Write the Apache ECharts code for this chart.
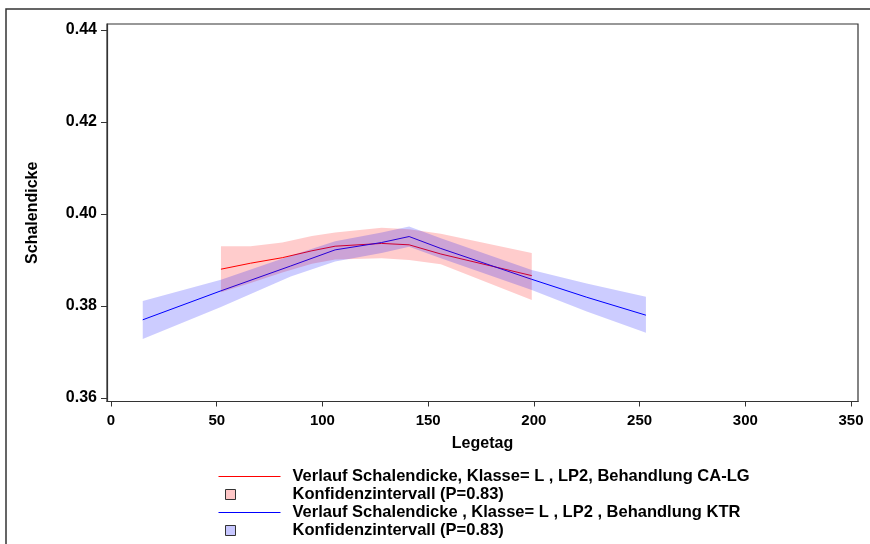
<!DOCTYPE html>
<html>
<head>
<meta charset="utf-8">
<script src="https://cdn.jsdelivr.net/npm/echarts@6/dist/echarts.min.js"></script>
<style>
html,body{margin:0;padding:0;background:#fff;}
#chart{width:870px;height:544px;}
</style>
</head>
<body>
<div id="chart"></div>
<script>
// Tick labels
var xTicks = [0, 50, 100, 150, 200, 250, 300, 350];
var yTicks = [0.36, 0.38, 0.40, 0.42, 0.44];

// Series CA-LG (red)
var redX     = [52, 66, 81, 95, 106, 128, 141, 156, 199];
var redMid   = [0.3880, 0.3893, 0.3905, 0.3920, 0.3930, 0.3936, 0.3933, 0.3913, 0.3866];
var redUpper = [0.3930, 0.3930, 0.3938, 0.3952, 0.3960, 0.3970, 0.3967, 0.3957, 0.3915];
var redLower = [0.3830, 0.3850, 0.3873, 0.3892, 0.3901, 0.3904, 0.3900, 0.3891, 0.3813];

// Series KTR (blue)
var blueX     = [15, 52, 85, 106, 128, 141, 156, 199, 225, 253];
var blueMid   = [0.3770, 0.3833, 0.3887, 0.3922, 0.3938, 0.3951, 0.3925, 0.3858, 0.3819, 0.3780];
var blueUpper = [0.3811, 0.3857, 0.3909, 0.3941, 0.3960, 0.3973, 0.3947, 0.3878, 0.3849, 0.3820];
var blueLower = [0.3728, 0.3798, 0.3864, 0.3897, 0.3915, 0.3929, 0.3904, 0.3835, 0.3788, 0.3742];

var nameRed = 'Verlauf Schalendicke, Klasse= L , LP2, Behandlung CA-LG';
var nameRedCI = 'Konfidenzintervall (P=0.83)';
var nameBlue = 'Verlauf Schalendicke , Klasse= L , LP2 , Behandlung KTR';
var nameBlueCI = 'Konfidenzintervall (P=0.83) ';

function zip(xs, ys) { return xs.map(function (x, i) { return [x, ys[i]]; }); }
function bandData(xs, lo, hi) { return xs.map(function (x, i) { return [x, lo[i], hi[i]]; }); }

function bandRender(xs, lo, hi, color) {
  return function (params, api) {
    if (params.dataIndex !== 0) return null;
    var pts = [];
    for (var i = 0; i < xs.length; i++) pts.push(api.coord([xs[i], hi[i]]));
    for (var j = xs.length - 1; j >= 0; j--) pts.push(api.coord([xs[j], lo[j]]));
    return { type: 'polygon', shape: { points: pts }, style: { fill: color, stroke: null } };
  };
}

var font = 'Arial, "Liberation Sans", sans-serif';
var chart = echarts.init(document.getElementById('chart'));

function lg(item, top, left, iw, ih, pad) {
  return {
    data: [item],
    orient: 'vertical', left: left, top: top,
    itemWidth: iw, itemHeight: ih, padding: 0, selectedMode: false,
    textStyle: { fontFamily: font, fontWeight: 'bold', fontSize: 16.5, color: '#000', padding: [0, 0, 0, pad] }
  };
}

var hiddenSymbol = { color: 'rgba(0,0,0,0)', borderColor: 'rgba(0,0,0,0)', borderWidth: 0 };

chart.setOption({
  animation: false,
  backgroundColor: '#fff',
  graphic: [{
    type: 'polyline', shape: { points: [[6, 544], [6, 9], [870, 9]] },
    style: { stroke: '#333', lineWidth: 1.5, fill: null }
  }],
  grid: { left: 107, right: 12, top: 24, bottom: 142.5, show: true, borderColor: '#333', borderWidth: 1.2 },
  legend: [
    lg({ name: nameRed, itemStyle: hiddenSymbol, lineStyle: { color: '#ff0000', width: 1 } }, 468, 218, 62, 14, 7),
    lg({ name: nameRedCI, icon: 'rect', itemStyle: { color: 'rgba(255,0,0,0.22)', borderColor: '#333', borderWidth: 1 } }, 486, 225, 10, 10, 52),
    lg({ name: nameBlue, itemStyle: hiddenSymbol, lineStyle: { color: '#0000ff', width: 1 } }, 504, 218, 62, 14, 7),
    lg({ name: nameBlueCI, icon: 'rect', itemStyle: { color: 'rgba(0,0,255,0.22)', borderColor: '#333', borderWidth: 1 } }, 522, 225, 10, 10, 52)
  ],
  xAxis: {
    type: 'value', min: -1.9, max: 353.3,
    name: 'Legetag', nameLocation: 'middle', nameGap: 34,
    nameTextStyle: { fontFamily: font, fontWeight: 'bold', fontSize: 16, color: '#000' },
    axisLine: { show: true, onZero: false, lineStyle: { color: '#333', width: 1.2 } },
    axisTick: { show: true, length: 5, customValues: xTicks, lineStyle: { color: '#333' } },
    axisLabel: { customValues: xTicks, fontFamily: font, fontWeight: 'bold', fontSize: 15, color: '#000', margin: 12 },
    splitLine: { show: false }
  },
  yAxis: {
    type: 'value', min: 0.35924, max: 0.4413,
    name: 'Schalendicke', nameLocation: 'middle', nameGap: 66,
    nameTextStyle: { fontFamily: font, fontWeight: 'bold', fontSize: 16, color: '#000' },
    axisLine: { show: true, onZero: false, lineStyle: { color: '#333', width: 1.2 } },
    axisTick: { show: true, length: 6, customValues: yTicks, lineStyle: { color: '#333' } },
    axisLabel: { customValues: yTicks, fontFamily: font, fontWeight: 'bold', fontSize: 16, color: '#000', margin: 10,
      formatter: function (v) { return v.toFixed(2); } },
    splitLine: { show: false }
  },
  series: [
    { name: nameRed, type: 'line', data: zip(redX, redMid), symbol: 'none', color: '#ff0000',
      lineStyle: { color: '#ff0000', width: 1 }, z: 2 },
    { name: nameBlue, type: 'line', data: zip(blueX, blueMid), symbol: 'none', color: '#0000ff',
      lineStyle: { color: '#0000ff', width: 1 }, z: 2 },
    { name: nameRedCI, type: 'custom', data: bandData(redX, redLower, redUpper), color: 'rgba(255,0,0,0.22)',
      renderItem: bandRender(redX, redLower, redUpper, 'rgba(255,0,0,0.2)'), z: 3 },
    { name: nameBlueCI, type: 'custom', data: bandData(blueX, blueLower, blueUpper), color: 'rgba(0,0,255,0.22)',
      renderItem: bandRender(blueX, blueLower, blueUpper, 'rgba(0,0,255,0.2)'), z: 4 }
  ]
});
</script>
</body>
</html>
